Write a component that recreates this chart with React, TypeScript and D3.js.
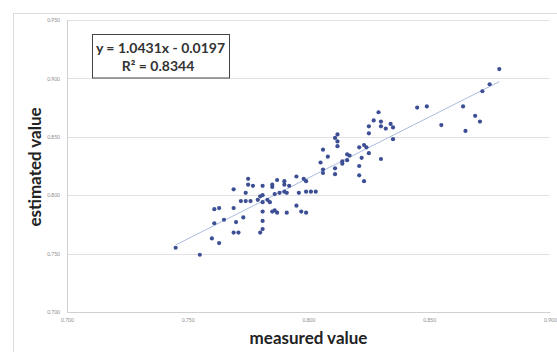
import React, { useRef, useEffect } from 'react';
import * as d3 from 'd3';

// measured (x) and estimated (y) values
const measured = [
  0.745, 0.755, 0.760, 0.763, 0.761, 0.765, 0.761, 0.763, 0.769, 0.770,
  0.773, 0.769, 0.771, 0.769, 0.774, 0.775, 0.775, 0.772, 0.774, 0.776,
  0.777, 0.780, 0.781, 0.779, 0.781, 0.780, 0.781, 0.781, 0.783, 0.784,
  0.781, 0.785, 0.781, 0.785, 0.785, 0.786, 0.788, 0.790, 0.791, 0.790,
  0.790, 0.792, 0.786, 0.791, 0.787, 0.795, 0.796, 0.799, 0.801, 0.803,
  0.795, 0.798, 0.799, 0.797, 0.799, 0.787, 0.805, 0.806, 0.808, 0.812,
  0.812, 0.812, 0.811, 0.816, 0.814, 0.811, 0.806, 0.806, 0.811, 0.817,
  0.814, 0.816, 0.823, 0.824, 0.821, 0.825, 0.822, 0.830, 0.821, 0.821,
  0.823, 0.829, 0.827, 0.830, 0.830, 0.825, 0.834, 0.835, 0.832, 0.825,
  0.835, 0.845, 0.849, 0.855, 0.864, 0.865, 0.869, 0.871, 0.872, 0.875,
  0.879,
];

const estimated = [
  0.755, 0.749, 0.763, 0.759, 0.776, 0.779, 0.788, 0.789, 0.789, 0.777,
  0.781, 0.768, 0.768, 0.805, 0.802, 0.814, 0.809, 0.795, 0.795, 0.795,
  0.808, 0.768, 0.771, 0.796, 0.808, 0.799, 0.800, 0.794, 0.796, 0.794,
  0.786, 0.786, 0.778, 0.809, 0.807, 0.801, 0.802, 0.803, 0.802, 0.812,
  0.809, 0.808, 0.787, 0.785, 0.785, 0.791, 0.802, 0.803, 0.803, 0.803,
  0.816, 0.814, 0.812, 0.786, 0.785, 0.813, 0.828, 0.839, 0.833, 0.846,
  0.842, 0.852, 0.849, 0.835, 0.827, 0.823, 0.822, 0.819, 0.818, 0.834,
  0.829, 0.830, 0.843, 0.841, 0.841, 0.836, 0.832, 0.831, 0.825, 0.817,
  0.812, 0.871, 0.864, 0.863, 0.859, 0.859, 0.861, 0.858, 0.857, 0.853,
  0.848, 0.875, 0.876, 0.860, 0.876, 0.855, 0.868, 0.863, 0.889, 0.895,
  0.908,
];

const xTicks = [0.70, 0.75, 0.80, 0.85, 0.90];
const yTicks = [0.70, 0.75, 0.80, 0.85, 0.90, 0.95];

// linear trendline reported in the chart
const slope = 1.0431;
const intercept = -0.0197;
const rSquared = 0.8344;

const App: React.FC = () => {
  const svgRef = useRef<SVGSVGElement>(null);
  const width = 557;
  const height = 352;

  useEffect(() => {
    if (!svgRef.current) return;
    const svg = d3.select(svgRef.current);
    svg.selectAll('*').remove();

    const margin = { top: 20, right: 7, bottom: 40, left: 67 };
    const innerWidth = width - margin.left - margin.right;
    const innerHeight = height - margin.top - margin.bottom;

    const xScale = d3.scaleLinear().domain([0.70, 0.90]).range([0, innerWidth]);
    const yScale = d3.scaleLinear().domain([0.70, 0.95]).range([innerHeight, 0]);
    const fmt = d3.format('.3f');

    // outer chart border
    svg.append('rect')
      .attr('x', 13.5)
      .attr('y', 13.5)
      .attr('width', width)
      .attr('height', height)
      .attr('fill', 'none')
      .attr('stroke', '#dcdcdc');

    const g = svg.append('g')
      .attr('transform', `translate(${margin.left},${margin.top})`);

    // horizontal grid lines
    g.append('g')
      .selectAll('line')
      .data(yTicks.slice(1))
      .enter()
      .append('line')
      .attr('x1', 0)
      .attr('x2', innerWidth)
      .attr('y1', d => Math.round(yScale(d)) + 0.5)
      .attr('y2', d => Math.round(yScale(d)) + 0.5)
      .attr('stroke', '#e2e2e2');

    // Y axis
    const yAxis = g.append('g')
      .call(d3.axisLeft(yScale).tickValues(yTicks).tickFormat(d => fmt(d as number)).tickSize(0).tickPadding(7));
    yAxis.select('.domain').attr('stroke', '#d0d0d0');
    yAxis.selectAll('text')
      .style('font-family', 'Lato, sans-serif')
      .style('font-size', '5px')
      .style('fill', '#8a8a8a');

    // X axis
    const xAxis = g.append('g')
      .attr('transform', `translate(0,${innerHeight})`)
      .call(d3.axisBottom(xScale).tickValues(xTicks).tickFormat(d => fmt(d as number)).tickSize(0).tickPadding(6));
    xAxis.select('.domain').attr('stroke', '#d0d0d0');
    xAxis.selectAll('text')
      .style('font-family', 'Lato, sans-serif')
      .style('font-size', '5px')
      .style('fill', '#8a8a8a');

    // trendline over the data range
    const xMin = d3.min(measured) as number;
    const xMax = d3.max(measured) as number;
    g.append('line')
      .attr('x1', xScale(xMin))
      .attr('y1', yScale(slope * xMin + intercept))
      .attr('x2', xScale(xMax))
      .attr('y2', yScale(slope * xMax + intercept))
      .attr('stroke', '#a9bce0')
      .attr('stroke-width', 1);

    // points
    g.selectAll('.pt')
      .data(measured)
      .enter()
      .append('circle')
      .attr('class', 'pt')
      .attr('cx', (d, i) => xScale(d))
      .attr('cy', (d, i) => yScale(estimated[i]))
      .attr('r', 2.1)
      .attr('fill', '#3c4f94');

    // equation box
    svg.append('rect')
      .attr('x', 92.5)
      .attr('y', 34.5)
      .attr('width', 137)
      .attr('height', 43.5)
      .attr('fill', '#fff')
      .attr('stroke', '#444')
      .attr('stroke-width', 1);

    svg.append('text')
      .attr('x', 160.5)
      .attr('y', 53)
      .attr('text-anchor', 'middle')
      .style('font-family', 'Lato, sans-serif')
      .style('font-weight', 'bold')
      .style('font-size', '14px')
      .style('fill', '#333')
      .text(`y = ${slope}x - ${Math.abs(intercept).toFixed(4)}`);

    svg.append('text')
      .attr('x', 158)
      .attr('y', 71)
      .attr('text-anchor', 'middle')
      .style('font-family', 'Lato, sans-serif')
      .style('font-weight', 'bold')
      .style('font-size', '14px')
      .style('fill', '#333')
      .text(`R² = ${rSquared}`);

    // axis titles
    svg.append('text')
      .attr('x', margin.left + innerWidth / 2)
      .attr('y', 344)
      .attr('text-anchor', 'middle')
      .style('font-family', 'Lato, sans-serif')
      .style('font-weight', 'bold')
      .style('font-size', '17px')
      .style('fill', '#222')
      .text('measured value');

    svg.append('text')
      .attr('transform', `translate(41,167) rotate(-90)`)
      .attr('text-anchor', 'middle')
      .style('font-family', 'Lato, sans-serif')
      .style('font-weight', 'bold')
      .style('font-size', '17px')
      .style('fill', '#222')
      .text('estimated value');
  }, []);

  return (
    <svg
      ref={svgRef}
      width={width}
      height={height}
      style={{ position: 'absolute', left: 0, top: 0, background: '#fff' }}
    ></svg>
  );
};

export default App;
